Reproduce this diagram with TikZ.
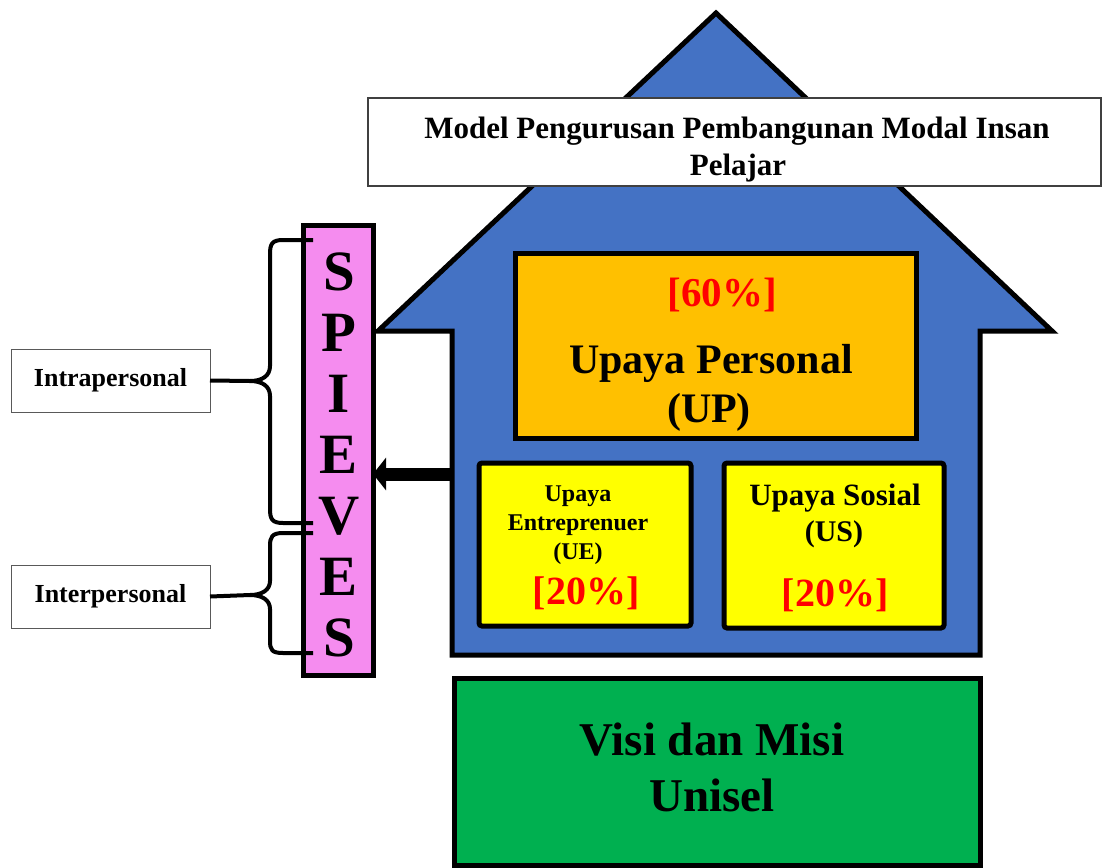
\documentclass[tikz,border=0pt]{standalone}
\usepackage{fontspec}
\setmainfont{Liberation Serif}
\usetikzlibrary{arrows.meta}
\definecolor{houseblue}{HTML}{4472C4}
\definecolor{uporange}{HTML}{FFC000}
\definecolor{boxyellow}{HTML}{FFFF00}
\definecolor{visigreen}{HTML}{00B050}
\definecolor{spink}{HTML}{F58CEF}
\definecolor{pred}{HTML}{FF0000}
\newcommand\myfs[2]{\fontsize{#1}{#2}\selectfont}
\tikzset{
  thickbox/.style={draw=black, line width=5pt, inner sep=0pt, outer sep=0pt},
  thinbox/.style={draw=black!75, line width=1.2pt, fill=white, inner sep=0pt, outer sep=0pt},
  txt/.style={inner sep=0pt, outer sep=0pt, anchor=base, font=\bfseries},
  bracepath/.style={draw=black, line width=4pt, line join=round},
}
\begin{document}
\begin{tikzpicture}[x=1pt,y=-1pt]
\useasboundingbox (0,0) rectangle (1104,868);
% house
\draw[fill=houseblue, line width=5pt, line join=miter]
  (716,13) -- (1052,331) -- (980,331) -- (980,655) -- (452,655) -- (452,331) -- (378,331) -- cycle;
\coordinate (houseL) at (452,474);
% title
\node[thinbox, minimum width=733pt, minimum height=88pt] (title) at (734.5,142) {};
\node[txt, font=\bfseries\myfs{31}{31}] (t1) at (737,138) {Model Pengurusan Pembangunan Modal Insan};
\node[txt, font=\bfseries\myfs{31}{31}] (t2) at (738,175) {Pelajar};
% SPIEVES
\node[thickbox, fill=spink, minimum width=70pt, minimum height=450pt, align=center,
  font=\bfseries\myfs{57}{61}] (spieves) at (338,450) {};
\node[inner sep=0pt, align=center, font=\bfseries\myfs{57}{61}] (letters) at (339,455) {S\\P\\I\\E\\V\\E\\S};
% UP box
\node[thickbox, fill=uporange, minimum width=401pt, minimum height=185pt] (up) at (715.5,345.5) {};
\node[txt, text=pred, font=\bfseries\myfs{41}{41}] (upp) at (722,306) {[60\%]};
\node[txt, font=\bfseries\myfs{42}{42}] (upt) at (711,373) {Upaya Personal};
\node[txt, font=\bfseries\myfs{42}{42}] (upa) at (709,422) {(UP)};
% UE box
\node[thickbox, fill=boxyellow, rounded corners=3pt, minimum width=212pt, minimum height=163pt] (ue) at (585,544.5) {};
\node[txt, font=\bfseries\myfs{24}{24}] (ue1) at (578,501) {Upaya};
\node[txt, font=\bfseries\myfs{24}{24}] (ue2) at (578,530) {Entreprenuer};
\node[txt, font=\bfseries\myfs{24}{24}] (ue3) at (578,559) {(UE)};
\node[txt, text=pred, font=\bfseries\myfs{40}{40}] (ue4) at (586,604) {[20\%]};
% US box
\node[thickbox, fill=boxyellow, rounded corners=3pt, minimum width=220pt, minimum height=165pt] (us) at (834,545.5) {};
\node[txt, font=\bfseries\myfs{31}{31}] (us1) at (835,505) {Upaya Sosial};
\node[txt, font=\bfseries\myfs{30}{30}] (us2) at (834,541) {(US)};
\node[txt, text=pred, font=\bfseries\myfs{40}{40}] (us3) at (835,606) {[20\%]};
% green box
\node[thickbox, fill=visigreen, minimum width=526pt, minimum height=187pt] (visi) at (717,771.5) {};
\node[txt, font=\bfseries\myfs{47}{47}] (v1) at (712,755) {Visi dan Misi};
\node[txt, font=\bfseries\myfs{47}{47}] (v2) at (712,811) {Unisel};
% arrow
\draw[line width=13pt, -{Triangle[length=13pt, width=32pt]}] (houseL) -- (spieves.east |- houseL);
% side boxes
\node[thinbox, draw=black!65, line width=1pt, minimum width=199pt, minimum height=63pt, font=\bfseries\myfs{26}{26}]
  (intra) at (110.5,380.5) {Intrapersonal};
\node[thinbox, draw=black!65, line width=1pt, minimum width=199pt, minimum height=63pt, font=\bfseries\myfs{26}{26}]
  (inter) at (110.5,596.5) {Interpersonal};
% braces
\coordinate (b1) at (250,381);
\coordinate (b2) at (250,595);
\draw[bracepath] (313,240) -- (283,240) .. controls (272,240) and (270,244) .. (270,254) -- (270,366)
  .. controls (270,376) and (262,381) .. (b1) .. controls (262,381) and (270,386) .. (270,396)
  -- (270,509) .. controls (270,519) and (272,523) .. (283,523) -- (313,523);
\draw[bracepath] (313,533) -- (283,533) .. controls (272,533) and (270,537) .. (270,546) -- (270,581)
  .. controls (270,590) and (262,595) .. (b2) .. controls (262,595) and (270,600) .. (270,609)
  -- (270,641) .. controls (270,650) and (272,653) .. (283,653) -- (313,653);
\draw[line width=4pt] (intra.east) -- (b1);
\draw[line width=4pt] (inter.east) -- (b2);
\end{tikzpicture}
\end{document}
